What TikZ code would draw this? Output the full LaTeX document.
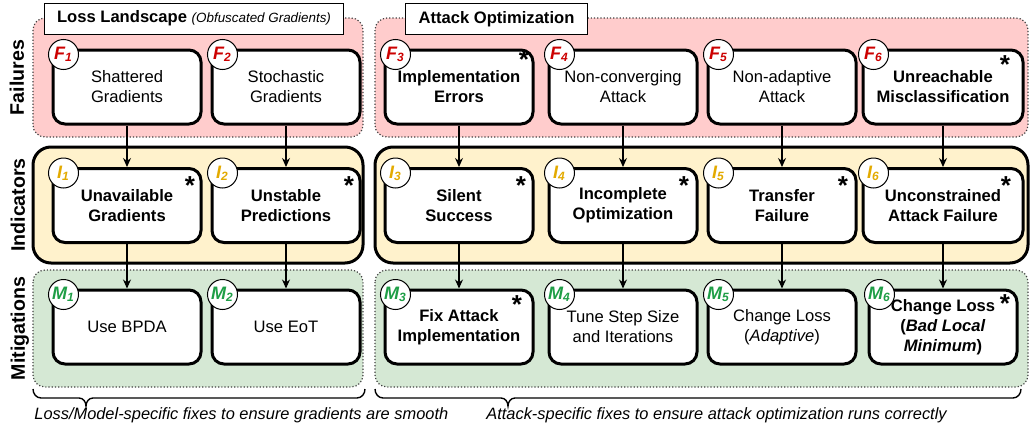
\documentclass[tikz,border=0pt]{standalone}
\usepackage{fontspec}
\setmainfont{Liberation Sans}
\usetikzlibrary{arrows.meta,positioning}

\definecolor{failfill}{HTML}{FFCCCC}
\definecolor{indfill}{HTML}{FFF2CC}
\definecolor{mitfill}{HTML}{D5E8D4}
\definecolor{failcol}{HTML}{CC0000}
\definecolor{indcol}{HTML}{E3AA00}
\definecolor{mitcol}{HTML}{1E9E46}

\tikzset{
  cell/.style={draw, line width=1.5pt, rounded corners=6pt, fill=white, minimum width=74pt, minimum height=37pt, align=center, inner sep=1pt, font=\fontsize{8.3}{10}\selectfont},
  strong/.style={font=\fontsize{8.3}{10}\selectfont\bfseries},
  wide/.style={minimum width=80pt},
  badge/.style={circle, draw, line width=0.5pt, fill=white, minimum size=15pt, inner sep=0pt, font=\fontsize{9}{9}\selectfont\bfseries\itshape},
  starmark/.style={inner sep=0pt, anchor=north east, font=\fontsize{13}{13}\selectfont\bfseries},
  dotpanel/.style={draw=black!75, densely dotted, line width=0.6pt, rounded corners=6pt},
  indpanel/.style={draw, line width=1.5pt, fill=indfill, rounded corners=9pt},
  title/.style={draw, line width=0.5pt, fill=white, inner xsep=6.5pt, minimum height=15.5pt, font=\fontsize{8.3}{10}\selectfont\bfseries},
  rowlabel/.style={rotate=90, anchor=base, inner sep=0pt, font=\fontsize{9.8}{10}\selectfont\bfseries},
  flow/.style={-{Stealth[length=4.5pt,width=4pt]}, line width=0.6pt},
  brace/.style={line width=0.7pt},
  note/.style={anchor=base west, inner sep=0pt, font=\fontsize{8.2}{10}\selectfont\itshape}
}

\begin{document}
\begin{tikzpicture}[x=0.5pt, y=-0.5pt]
\useasboundingbox (0,0) rectangle (1030,434);
%panels
\draw[dotpanel, fill=failfill] (33,18) rectangle (363,137);
\draw[dotpanel, fill=failfill] (375,18) rectangle (1028,137);
\draw[indpanel] (33,147) rectangle (363,263);
\draw[indpanel] (375,147) rectangle (1028,263);
\draw[dotpanel, fill=mitfill] (33,270) rectangle (363,387);
\draw[dotpanel, fill=mitfill] (375,270) rectangle (1028,387);

\node[title] (tl) at (194,18.5) {Loss Landscape {\fontsize{6.7}{8}\selectfont\mdseries\itshape(Obfuscated Gradients)}};
\node[title] (tr) at (496.5,19) {Attack Optimization};

\node[rowlabel] (lf) at (24,77.5) {Failures};
\node[rowlabel] (li) at (25,205) {Indicators};
\node[rowlabel] (lm) at (25,328.5) {Mitigations};

%failures
\node[cell] (f1) at (127,87) {Shattered\\Gradients};
\node[cell] (f2) at (286,87) {Stochastic\\Gradients};
\node[cell, strong] (f3) at (459,87) {Implementation\\Errors};
\node[cell] (f4) at (623,87) {Non-converging\\Attack};
\node[cell] (f5) at (782,87) {Non-adaptive\\Attack};
\node[cell, strong, wide] (f6) at (943,87) {Unreachable\\Misclassification};

%indicators
\node[cell, strong] (i1) at (127,205.5) {Unavailable\\Gradients};
\node[cell, strong] (i2) at (286,205.5) {Unstable\\Predictions};
\node[cell, strong] (i3) at (459,205.5) {Silent\\Success};
\node[cell, strong] (i4) at (623,205.5) {Incomplete\\Optimization};
\node[cell, strong] (i5) at (782,205.5) {Transfer\\Failure};
\node[cell, strong, wide] (i6) at (943,205.5) {Unconstrained\\Attack Failure};

%mitigations
\node[cell] (m1) at (127,327) {Use BPDA};
\node[cell] (m2) at (286,327) {Use EoT};
\node[cell, strong] (m3) at (459,327) {Fix Attack\\Implementation};
\node[cell] (m4) at (623,327) {Tune Step Size\\and Iterations};
\node[cell] (m5) at (782,327) {Change Loss\\(\textit{Adaptive})};
\node[cell, strong] (m6) at (943,327) {Change Loss\\(\textit{Bad Local}\\\textit{Minimum})};

%badges
\node[badge, text=failcol] (f1b) at ([shift={(12,6)}]f1.north west) {F\textsubscript{1}};
\node[badge, text=failcol] (f2b) at ([shift={(12,6)}]f2.north west) {F\textsubscript{2}};
\node[badge, text=failcol] (f3b) at ([shift={(12,6)}]f3.north west) {F\textsubscript{3}};
\node[badge, text=failcol] (f4b) at ([shift={(12,6)}]f4.north west) {F\textsubscript{4}};
\node[badge, text=failcol] (f5b) at ([shift={(12,6)}]f5.north west) {F\textsubscript{5}};
\node[badge, text=failcol] (f6b) at ([shift={(12,6)}]f6.north west) {F\textsubscript{6}};
\node[badge, text=indcol] (i1b) at ([shift={(12,6)}]i1.north west) {I\textsubscript{1}};
\node[badge, text=indcol] (i2b) at ([shift={(12,6)}]i2.north west) {I\textsubscript{2}};
\node[badge, text=indcol] (i3b) at ([shift={(12,6)}]i3.north west) {I\textsubscript{3}};
\node[badge, text=indcol] (i4b) at ([shift={(12,6)}]i4.north west) {I\textsubscript{4}};
\node[badge, text=indcol] (i5b) at ([shift={(12,6)}]i5.north west) {I\textsubscript{5}};
\node[badge, text=indcol] (i6b) at ([shift={(12,6)}]i6.north west) {I\textsubscript{6}};
\node[badge, text=mitcol] (m1b) at ([shift={(12,6)}]m1.north west) {M\textsubscript{1}};
\node[badge, text=mitcol] (m2b) at ([shift={(12,6)}]m2.north west) {M\textsubscript{2}};
\node[badge, text=mitcol] (m3b) at ([shift={(12,6)}]m3.north west) {M\textsubscript{3}};
\node[badge, text=mitcol] (m4b) at ([shift={(12,6)}]m4.north west) {M\textsubscript{4}};
\node[badge, text=mitcol] (m5b) at ([shift={(12,6)}]m5.north west) {M\textsubscript{5}};
\node[badge, text=mitcol] (m6b) at ([shift={(12,6)}]m6.north west) {M\textsubscript{6}};

%stars
\node[starmark] (f3s) at ([shift={(-5,2)}]f3.north east) {*};
\node[starmark] (f6s) at ([shift={(-14,7)}]f6.north east) {*};
\node[starmark] (i1s) at ([shift={(-7,9)}]i1.north east) {*};
\node[starmark] (i2s) at ([shift={(-7,9)}]i2.north east) {*};
\node[starmark] (i3s) at ([shift={(-8,9)}]i3.north east) {*};
\node[starmark] (i4s) at ([shift={(-9,9)}]i4.north east) {*};
\node[starmark] (i5s) at ([shift={(-9,9)}]i5.north east) {*};
\node[starmark] (i6s) at ([shift={(-13,9)}]i6.north east) {*};
\node[starmark] (m3s) at ([shift={(-12,7)}]m3.north east) {*};
\node[starmark] (m6s) at ([shift={(-8,6)}]m6.north east) {*};

%arrows
\draw[flow] (f1) -- (i1);
\draw[flow] (f2) -- (i2);
\draw[flow] (f3) -- (i3);
\draw[flow] (f4) -- (i4);
\draw[flow] (f5) -- (i5);
\draw[flow] (f6) -- (i6);
\draw[flow] (i1) -- (m1);
\draw[flow] (i2) -- (m2);
\draw[flow] (i3) -- (m3);
\draw[flow] (i4) -- (m4);
\draw[flow] (i5) -- (m5);
\draw[flow] (i6) -- (m6);

%braces
\draw[brace] (33,389) to[out=-90,in=180] (41,398) -- (79,398) to[out=0,in=90] (86,406) to[out=90,in=180] (93,398) -- (357,398) to[out=0,in=-90] (365,389);
\draw[brace] (375,389) to[out=-90,in=180] (383,398) -- (501,398) to[out=0,in=90] (508,406) to[out=90,in=180] (515,398) -- (1013,398) to[out=0,in=-90] (1021,389);

\node[note] (bl) at (34,419) {Loss/Model-specific fixes to ensure gradients are smooth};
\node[note] (br) at (486,419) {Attack-specific fixes to ensure attack optimization runs correctly};
\end{tikzpicture}
\end{document}
